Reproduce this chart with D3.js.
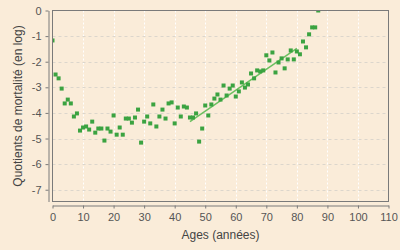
<!DOCTYPE html>
<html>
<head>
<meta charset="utf-8">
<script src="https://cdn.jsdelivr.net/npm/d3@7"></script>
<style>
    body { margin: 0; background: #faecd9; }
    svg { display: block; font-family: "Liberation Sans", Arial, sans-serif; }
</style>
</head>
<body>
<svg id="chart" width="400" height="250"></svg>
<script>
// ages (years) and log mortality quotients
let ages = [];
for (let a = 0; a <= 87; a++) ages.push(a);
let logQ = [
    -1.17, -2.50, -2.65, -3.05, -3.63, -3.48, -3.63, -4.14, -4.02, -4.69,
    -4.57, -4.53, -4.65, -4.34, -4.77, -4.61, -4.61, -5.08, -4.61, -4.73,
    -4.10, -4.85, -4.57, -4.85, -4.22, -4.22, -4.38, -4.18, -3.87, -5.16,
    -4.34, -4.14, -4.41, -3.67, -4.53, -4.14, -3.87, -4.22, -3.63, -3.59,
    -4.41, -3.79, -4.14, -3.75, -3.79, -4.18, -4.18, -4.02, -5.12, -4.61,
    -3.71, -4.10, -3.67, -3.44, -3.28, -3.48, -2.93, -3.32, -3.05, -2.93,
    -3.36, -3.16, -2.81, -3.01, -2.89, -2.46, -2.65, -2.34, -2.38, -2.34,
    -1.75, -1.95, -1.64, -2.42, -2.03, -1.87, -2.26, -1.91, -1.56, -1.91,
    -1.60, -1.71, -1.21, -1.44, -0.93, -0.66, -0.66, 0.00
];
// fitted line (Gompertz part), end points
let fitAges = [45, 80];
let fitLogQ = [-4.34, -1.48];

let xTicks = [0, 10, 20, 30, 40, 50, 60, 70, 80, 90, 100, 110];
let yTicks = [0, -1, -2, -3, -4, -5, -6, -7];

let xLabel = "Ages (années)";
let yLabel = "Quotients de mortalité (en log)";

let plot = { left: 52.5, right: 388.5, top: 10.5, bottom: 201.5 };

let svg = d3.select("#chart");

let x = d3.scaleLinear().domain([0, 110]).range([plot.left, plot.right]);
let y = d3.scaleLinear().domain([-7.46, 0]).range([plot.bottom, plot.top]);

svg.append("rect")
    .attr("width", 400).attr("height", 250)
    .attr("fill", "#faecd9");

svg.append("clipPath").attr("id", "plotclip")
    .append("rect")
    .attr("x", plot.left).attr("y", plot.top)
    .attr("width", plot.right - plot.left)
    .attr("height", plot.bottom - plot.top);

// grid
svg.append("g")
    .selectAll("line")
    .data(xTicks.slice(1, -1))
    .join("line")
    .attr("x1", d => Math.round(x(d)) + 0.5).attr("x2", d => Math.round(x(d)) + 0.5)
    .attr("y1", plot.top).attr("y2", plot.bottom)
    .attr("stroke", "#ffffff")
    .attr("stroke-width", 1)
    .attr("stroke-dasharray", "2,2");

svg.append("g")
    .selectAll("line")
    .data(yTicks.slice(1))
    .join("line")
    .attr("x1", plot.left).attr("x2", plot.right)
    .attr("y1", d => Math.round(y(d)) + 0.5).attr("y2", d => Math.round(y(d)) + 0.5)
    .attr("stroke", "#dcd6cc")
    .attr("stroke-width", 1)
    .attr("stroke-dasharray", "3,3");

let inner = svg.append("g").attr("clip-path", "url(#plotclip)");

let fitLine = d3.line()
    .x((d, i) => x(fitAges[i]))
    .y(d => y(d));

inner.append("path")
    .datum(fitLogQ)
    .attr("d", fitLine)
    .attr("fill", "none")
    .attr("stroke", "#6cc060")
    .attr("stroke-width", 1.5);

inner.selectAll("rect.pt")
    .data(logQ)
    .join("rect")
    .attr("class", "pt")
    .attr("x", (d, i) => x(ages[i]) - 2)
    .attr("y", d => y(d) - 2)
    .attr("width", 4)
    .attr("height", 4)
    .attr("fill", "#3ba341");

// plot outline
svg.append("rect")
    .attr("x", plot.left).attr("y", plot.top)
    .attr("width", plot.right - plot.left)
    .attr("height", plot.bottom - plot.top)
    .attr("fill", "none")
    .attr("stroke", "#7a7a7a")
    .attr("stroke-width", 1);

// axes
let xAxis = svg.append("g")
    .attr("transform", "translate(0,205.5)")
    .call(d3.axisBottom(x).tickValues(xTicks).tickSize(3).tickPadding(4.5).tickSizeOuter(0));

let yAxis = svg.append("g")
    .attr("transform", "translate(48.5,0)")
    .call(d3.axisLeft(y).tickValues(yTicks).tickSize(3).tickPadding(4).tickSizeOuter(0)
        .tickFormat(d3.format("d")));

[xAxis, yAxis].forEach(g => {
    g.select(".domain").attr("stroke", "#7a7a7a");
    g.selectAll(".tick line").attr("stroke", "#7a7a7a");
    g.selectAll(".tick text")
        .attr("fill", "#555")
        .style("font-family", "Liberation Sans, Arial, sans-serif")
        .style("font-size", "11px");
});
yAxis.selectAll(".tick text").text(d => d === 0 ? "0" : "-" + Math.abs(d));

svg.append("text")
    .attr("x", (plot.left + plot.right) / 2)
    .attr("y", 239)
    .attr("text-anchor", "middle")
    .attr("fill", "#444")
    .style("font-size", "12px")
    .text(xLabel);

svg.append("text")
    .attr("transform", "translate(22," + ((plot.top + plot.bottom) / 2) + ") rotate(-90)")
    .attr("text-anchor", "middle")
    .attr("fill", "#444")
    .style("font-size", "12px")
    .text(yLabel);
</script>
</body>
</html>
